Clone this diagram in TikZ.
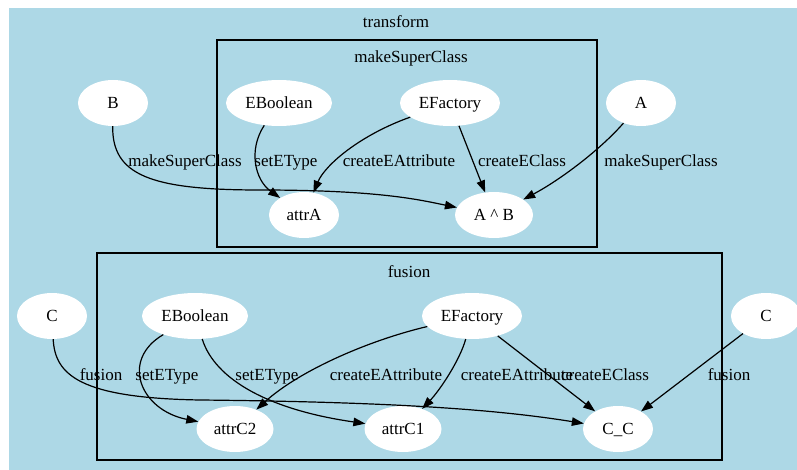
\documentclass[tikz,border=0pt]{standalone}
\usepackage{fontspec}
\setmainfont{Liberation Serif}
\usetikzlibrary{shapes.geometric,arrows.meta}
\definecolor{graphblue}{HTML}{ADD8E6}

\begin{document}
\begin{tikzpicture}[x=1pt,y=-1pt]
        \tikzstyle{elem} = [ellipse,fill=white,inner sep=0pt,minimum height=46pt,text height=11.5pt,text depth=0pt,font=\fontsize{17}{20}\selectfont]
        \tikzstyle{lbl} = [inner sep=0pt,text height=11.5pt,text depth=0pt,font=\fontsize{17}{20}\selectfont]
        \tikzstyle{rel} = [-{Triangle[length=12pt,width=8.5pt]},line width=1.2pt]
        \tikzstyle{cluster} = [draw,line width=2.6pt]

        \useasboundingbox (0,0) rectangle (797,470);
        \fill[graphblue] (9,8) rectangle (797,470);

        \draw[cluster] (217,40) rectangle (597,247);
        \draw[cluster] (97,253) rectangle (722,460);

        \node[lbl] (transform) at (396,22){transform};
        \node[lbl] (superTitle) at (411,57){makeSuperClass};
        \node[lbl] (fusionTitle) at (409,272){fusion};

        % makeSuperClass
        \node[elem,minimum width=70pt] (B) at (113,103){B};
        \node[elem,minimum width=106pt] (EBoolA) at (279,103){EBoolean};
        \node[elem,minimum width=100pt] (EFacA) at (450,103){EFactory};
        \node[elem,minimum width=70pt] (A) at (641,103){A};
        \node[elem,minimum width=70pt] (attrA) at (304,215){attrA};
        \node[elem,minimum width=78pt] (AB) at (494,215){A \textasciicircum\ B};

        % fusion
        \node[elem,minimum width=70pt] (Cl) at (52,316){C};
        \node[elem,minimum width=106pt] (EBoolF) at (195,316){EBoolean};
        \node[elem,minimum width=100pt] (EFacF) at (472,316){EFactory};
        \node[elem,minimum width=70pt] (Cr) at (766,316){C};
        \node[elem,minimum width=77pt] (attrC2) at (235,429){attrC2};
        \node[elem,minimum width=77pt] (attrC1) at (403,429){attrC1};
        \node[elem,minimum width=70pt] (CC) at (618,429){C\_C};

        \draw[rel] (B) .. controls (112,175) and (150,190) .. (260,190) .. controls (380,190) and (420,200) .. (AB);
        \draw[rel] (EBoolA) .. controls (248,150) and (255,180) .. (attrA);
        \draw[rel] (EFacA) .. controls (360,135) and (325,165) .. (attrA);
        \draw[rel] (EFacA) -- (AB);
        \draw[rel] (A) .. controls (600,150) and (560,180) .. (AB);

        \draw[rel] (Cl) .. controls (55,375) and (80,398) .. (200,400) .. controls (400,402) and (500,410) .. (CC);
        \draw[rel] (EBoolF) .. controls (120,360) and (140,410) .. (attrC2);
        \draw[rel] (EBoolF) .. controls (215,380) and (270,410) .. (attrC1);
        \draw[rel] (EFacF) .. controls (370,340) and (300,370) .. (attrC2);
        \draw[rel] (EFacF) .. controls (460,360) and (440,390) .. (attrC1);
        \draw[rel] (EFacF) -- (CC);
        \draw[rel] (Cr) -- (CC);

        \node[lbl] (superB) at (185,161){makeSuperClass};
        \node[lbl] (typeA) at (286,161){setEType};
        \node[lbl] (attrLblA) at (399,161){createEAttribute};
        \node[lbl] (classLblA) at (522,161){createEClass};
        \node[lbl] (superA) at (661,161){makeSuperClass};

        \node[lbl] (fusionL) at (101,375){fusion};
        \node[lbl] (typeC2) at (167,375){setEType};
        \node[lbl] (typeC1) at (267,375){setEType};
        \node[lbl] (attrLblC2) at (386,375){createEAttribute};
        \node[lbl] (attrLblC1) at (517,375){createEAttribute};
        \node[lbl] (classLblC) at (605,375){createEClass};
        \node[lbl] (fusionR) at (729,375){fusion};

    \end{tikzpicture}
\end{document}
